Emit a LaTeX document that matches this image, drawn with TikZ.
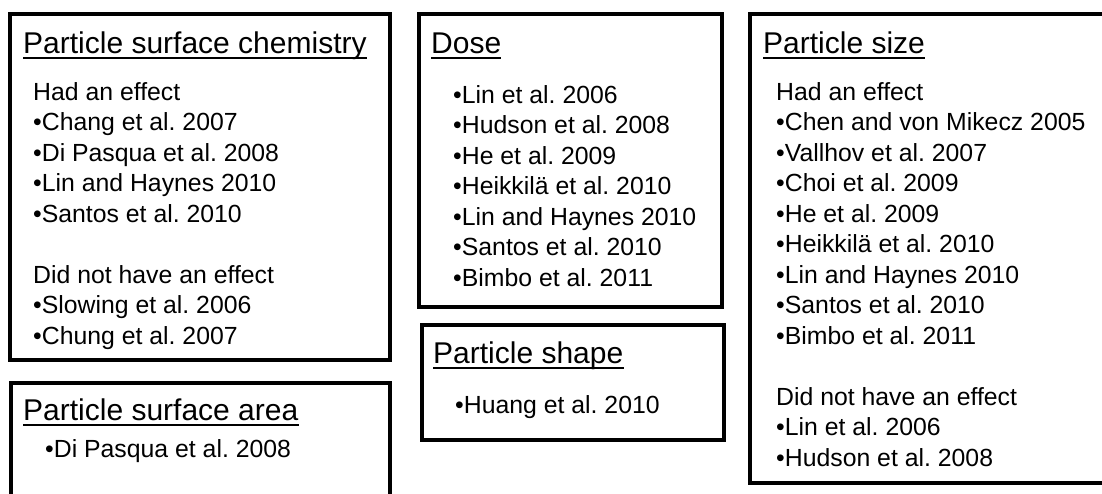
\documentclass[tikz,border=0pt]{standalone}
\usepackage{fontspec}
\setmainfont{Liberation Sans}
\frenchspacing
\begin{document}
\begin{tikzpicture}[x=1pt,y=-1pt,
  box/.style={draw=black,line width=4pt},
  ttl/.style={anchor=base west,inner sep=0pt,font=\fontsize{30}{32}\selectfont},
  itm/.style={anchor=base west,inner sep=0pt,font=\fontsize{24.8}{27}\selectfont},
  uline/.style={draw=black,line width=1.8pt}]
\clip (0,0) rectangle (1102,493);
\fill[white] (0,0) rectangle (1102,493);
% boxes
\draw[box] (10,14) rectangle (390,360);
\draw[box] (11,382.5) rectangle (390,530);
\draw[box] (419,14) rectangle (721.5,307);
\draw[box] (421.5,325) rectangle (723.5,439.5);
\draw[box] (750,14) rectangle (1140,482.5);
% titles
\node[ttl] (t1) at (23,53) {Particle surface chemistry};
\node[ttl] (t2) at (23,420) {Particle surface area};
\node[ttl] (t3) at (431,53) {Dose};
\node[ttl] (t4) at (433,363) {Particle shape};
\node[ttl] (t5) at (763,53) {Particle size};
\foreach \n in {t1,t2,t3,t4,t5}
  \draw[uline] ([yshift=-5pt]\n.base west) -- ([yshift=-5pt]\n.base east);
% box 1 items
\foreach \r/\t in {0/Had an effect,1/•Chang et al. 2007,2/•Di Pasqua et al. 2008,3/•Lin and Haynes 2010,4/•Santos et al. 2010,6/Did not have an effect,7/•Slowing et al. 2006,8/•Chung et al. 2007}
  \node[itm] (a\r) at (33,{100+30.5*\r}) {\t};
% box 2 item
\node[itm] (b0) at (45,457) {•Di Pasqua et al. 2008};
% box 3 items
\foreach \r/\t in {0/•Lin et al. 2006,1/•Hudson et al. 2008,2/•He et al. 2009,3/•Heikkilä et al. 2010,4/•Lin and Haynes 2010,5/•Santos et al. 2010,6/•Bimbo et al. 2011}
  \node[itm] (d\r) at (453,{103+30.5*\r}) {\t};
% box 4 item
\node[itm] (e0) at (455,413) {•Huang et al. 2010};
% box 5 items
\foreach \r/\t in {0/Had an effect,1/•Chen and von Mikecz 2005,2/•Vallhov et al. 2007,3/•Choi et al. 2009,4/•He et al. 2009,5/•Heikkilä et al. 2010,6/•Lin and Haynes 2010,7/•Santos et al. 2010,8/•Bimbo et al. 2011,10/Did not have an effect,11/•Lin et al. 2006,12/•Hudson et al. 2008}
  \node[itm] (s\r) at (776,{100+30.5*\r}) {\t};
\end{tikzpicture}
\end{document}
